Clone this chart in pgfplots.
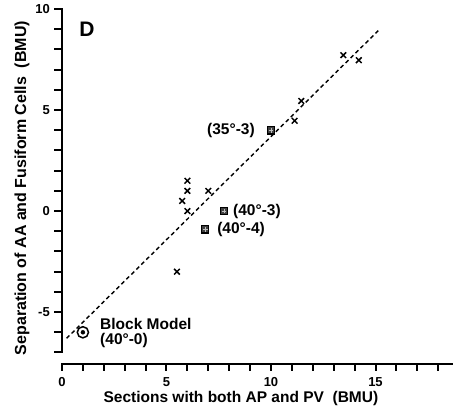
\documentclass[border=0pt]{standalone}
\usepackage{fontspec}
\setmainfont{Liberation Sans}
\usepackage{pgfplots}
\pgfplotsset{compat=1.18}
\newcommand\lbl{\fontsize{15.5}{17}\selectfont\bfseries}
\newcommand\tkl{\fontsize{13}{15}\selectfont\bfseries}
% filled tick marks (outward)
\pgfdeclareplotmark{ytk}{\pgfpathrectangle{\pgfpoint{-7.5pt}{-1pt}}{\pgfpoint{7.5pt}{2pt}}\pgfusepathqfill}
\pgfdeclareplotmark{xtk}{\pgfpathrectangle{\pgfpoint{-1pt}{-7.5pt}}{\pgfpoint{2pt}{7.5pt}}\pgfusepathqfill}
\begin{document}
\begin{tikzpicture}
\begin{axis}[
  x=20.9pt, y=20.2pt,
  xmin=0, xmax=18.7, ymin=-7.57, ymax=10,
  clip=false,
  axis lines*=left,
  axis line style={draw=none},
  xtick={0,5,10,15},
  ytick={-5,0,5,10},
  tick align=outside,
  major tick length=7pt,
  major tick style={draw=none},
  /pgf/number format/assume math mode=true,
  ticklabel style={font=\tkl, inner sep=0pt},
  yticklabel style={xshift=-5pt},
  xticklabel style={yshift=-6pt},
]
% y spine as a filled strip from -7 to 10
\addplot[fill=black, draw=none] coordinates {(-0.048,-7.05) (0.048,-7.05) (0.048,10.05) (-0.048,10.05)} -- cycle;
% x spine as a filled strip
\addplot[fill=black, draw=none] coordinates {(-0.048,-7.62) (18.7,-7.62) (18.7,-7.52) (-0.048,-7.52)} -- cycle;
% tick marks, one per unit, pointing outwards
\addplot[only marks, mark=xtk, black] coordinates {
  (0,-7.57) (1,-7.57) (2,-7.57) (3,-7.57) (4,-7.57) (5,-7.57) (6,-7.57) (7,-7.57) (8,-7.57) (9,-7.57)
  (10,-7.57) (11,-7.57) (12,-7.57) (13,-7.57) (14,-7.57) (15,-7.57) (16,-7.57) (17,-7.57) (18,-7.57)
};
\addplot[only marks, mark=ytk, black] coordinates {
  (0,-7) (0,-6) (0,-5) (0,-4) (0,-3) (0,-2) (0,-1) (0,0) (0,1) (0,2) (0,3) (0,4) (0,5)
  (0,6) (0,7) (0,8) (0,9) (0,10)
};
% fitted dashed line
\addplot[black, line width=1.4pt, dash pattern=on 4pt off 3pt] coordinates {(0.22,-6.3) (15.2,9.0)};
% sections (x marks)
\addplot[only marks, mark=x, mark size=4pt, line width=1.5pt, black] coordinates {
  (13.46,7.72) (14.2,7.47) (11.45,5.45) (11.13,4.47)
  (6.0,1.5) (6.0,1.0) (5.75,0.5) (6.0,0.0) (7.0,1.0) (5.5,-3.0)
};
% boxed points
\addplot[only marks, mark=square*, mark size=3.7pt, line width=1.1pt, draw=black, fill=black!75] coordinates {
  (10,4) (7.75,0) (6.85,-0.9)
};
\addplot[only marks, mark=+, mark size=2.4pt, line width=0.6pt, draw=white!75!black] coordinates {
  (10,4) (7.75,0) (6.85,-0.9)
};
% block model
\addplot[only marks, mark=o, mark size=5.6pt, line width=1.5pt, black] coordinates {(1,-6)};
\addplot[only marks, mark=*, mark size=2pt, black] coordinates {(1,-6)};
% annotations
\node[anchor=east, inner sep=0pt, font=\lbl] at (axis cs:9.23,4) {(35°-3)};
\node[anchor=west, inner sep=0pt, font=\lbl] at (axis cs:8.18,0) {(40°-3)};
\node[anchor=west, inner sep=0pt, font=\lbl] at (axis cs:7.42,-0.9) {(40°-4)};
\node[anchor=west, inner sep=0pt, font=\lbl] at (axis cs:1.82,-5.6) {Block Model};
\node[anchor=west, inner sep=0pt, font=\lbl] at (axis cs:1.82,-6.43) {(40°-0)};
\node[inner sep=0pt, font=\fontsize{21}{24}\selectfont\bfseries] at (axis cs:1.2,9.0) {D};
% axis labels
\node[inner sep=0pt, font=\lbl, yshift=-34pt] at (axis cs:8.56,-7.57) {Sections with both AP and PV \ (BMU)};
\node[inner sep=0pt, font=\fontsize{16}{18}\selectfont\bfseries, xshift=-40pt, rotate=90] at (axis cs:0,1.14) {Separation of AA and Fusiform Cells \ (BMU)};
% frame of the picture
\path (axis cs:0,-7.57) ++(-62pt,-48pt) rectangle ++(453pt,412pt);
\end{axis}
\end{tikzpicture}
\end{document}
